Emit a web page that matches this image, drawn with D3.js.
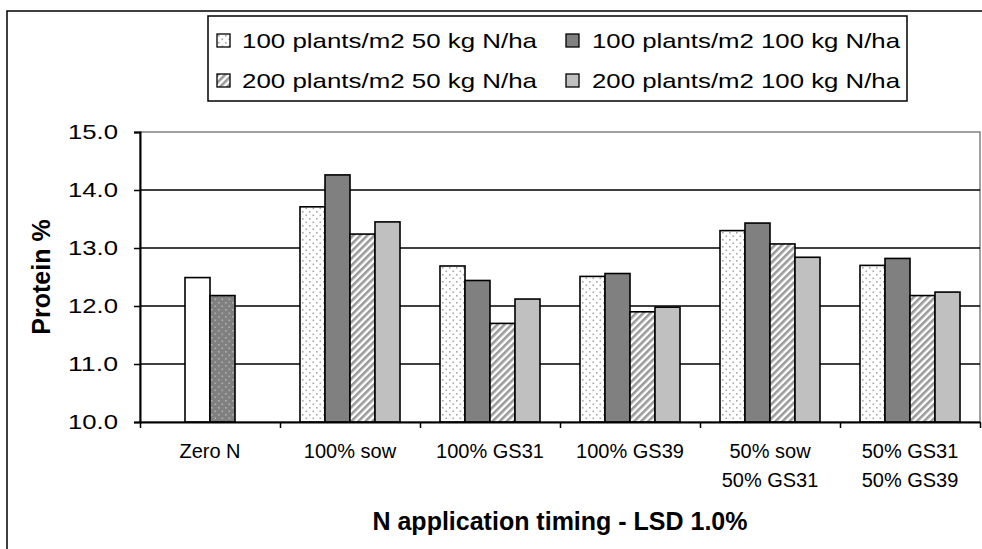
<!DOCTYPE html>
<html>
<head>
<meta charset="utf-8">
<script src="https://cdn.jsdelivr.net/npm/d3@7"></script>
<style>
  body { margin: 0; background: #fff; }
  svg { display: block; font-family: Arial, "Liberation Sans", sans-serif; }
</style>
</head>
<body>
<script>
// protein % by N timing, four density x N-rate combos

var categories = [["Zero N"], ["100% sow"], ["100% GS31"], ["100% GS39"], ["50% sow", "50% GS31"], ["50% GS31", "50% GS39"]];
var seriesNames = ["100 plants/m2 50 kg N/ha", "100 plants/m2 100 kg N/ha", "200 plants/m2 50 kg N/ha", "200 plants/m2 100 kg N/ha"];
// Zero N group has no values in the four main series
var s1 = [null, 13.71, 12.69, 12.51, 13.30, 12.70];
var s2 = [null, 14.26, 12.44, 12.56, 13.43, 12.82];
var s3 = [null, 13.24, 11.70, 11.90, 13.07, 12.18];
var s4 = [null, 13.45, 12.12, 11.98, 12.84, 12.24];
// the two zero-N controls sit in slots 2 and 3 of the first group
var zeroNames = ["Zero N a", "Zero N b"];
var zeroVals = [12.49, 12.18];
var zeroSlots = [1, 2];
var yTicks = [10, 11, 12, 13, 14, 15];

var W = 982, H = 549;
var svg = d3.select("body").append("svg").attr("width", W).attr("height", H);

// patterns
var defs = svg.append("defs");
var dots = defs.append("pattern").attr("id", "dots").attr("patternUnits", "userSpaceOnUse")
  .attr("width", 7).attr("height", 7);
dots.append("rect").attr("width", 7).attr("height", 7).attr("fill", "#fff");
dots.append("rect").attr("x", 1).attr("y", 1).attr("width", 1.6).attr("height", 1.6).attr("fill", "#a8a8a8");
dots.append("rect").attr("x", 4.5).attr("y", 4.5).attr("width", 1.6).attr("height", 1.6).attr("fill", "#a8a8a8");

var darkDots = defs.append("pattern").attr("id", "darkdots").attr("patternUnits", "userSpaceOnUse")
  .attr("width", 7).attr("height", 7);
darkDots.append("rect").attr("width", 7).attr("height", 7).attr("fill", "#808080");
darkDots.append("rect").attr("x", 1).attr("y", 1).attr("width", 1.6).attr("height", 1.6).attr("fill", "#b0b0b0");
darkDots.append("rect").attr("x", 4.5).attr("y", 4.5).attr("width", 1.6).attr("height", 1.6).attr("fill", "#b0b0b0");

var hatch = defs.append("pattern").attr("id", "hatch").attr("patternUnits", "userSpaceOnUse")
  .attr("width", 5).attr("height", 5).attr("patternTransform", "rotate(45)");
hatch.append("rect").attr("width", 5).attr("height", 5).attr("fill", "#fff");
hatch.append("rect").attr("width", 2.6).attr("height", 5).attr("fill", "#9a9a9a");

var fills = ["url(#dots)", "#808080", "url(#hatch)", "#c0c0c0"];
var zeroFills = ["#ffffff", "url(#darkdots)"];

// outer chart frame (runs off the right and bottom of the picture)
svg.append("rect").attr("x", 7).attr("y", 11).attr("width", 1000).attr("height", 600)
  .attr("fill", "none").attr("stroke", "#000").attr("stroke-width", 1.5);

// plot box  (don't call these top/left... window.top is read only)
var pL = 140, pR = 980, pT = 132, pB = 422;

var x0 = d3.scaleBand().domain(d3.range(categories.length)).range([pL, pR]);
var x1 = d3.scaleBand().domain(d3.range(seriesNames.length)).range([20, x0.bandwidth() - 20]);
var y = d3.scaleLinear().domain([10, 15]).range([pB, pT]);
var xb = d3.scaleLinear().domain([0, categories.length]).range([pL, pR]);

// plot area border
svg.append("rect").attr("x", pL).attr("y", pT).attr("width", pR - pL).attr("height", pB - pT)
  .attr("fill", "none").attr("stroke", "#808080").attr("stroke-width", 1.5);

// gridlines
svg.append("g").selectAll("line").data(yTicks.slice(1, -1)).enter().append("line")
  .attr("x1", pL).attr("x2", pR)
  .attr("y1", function(d){ return y(d); }).attr("y2", function(d){ return y(d); })
  .attr("stroke", "#000").attr("stroke-width", 1.5);

// bars
var all = [s1, s2, s3, s4];
var bars = svg.append("g");
all.forEach(function(vals, si){
  bars.selectAll("rect.s" + si).data(vals.map(function(v, ci){ return {v: v, c: ci}; }).filter(function(d){ return d.v != null; }))
    .enter().append("rect")
    .attr("class", "s" + si)
    .attr("x", function(d){ return x0(d.c) + x1(si); })
    .attr("y", function(d){ return y(d.v); })
    .attr("width", x1.bandwidth())
    .attr("height", function(d){ return y(10) - y(d.v); })
    .attr("fill", fills[si]).attr("stroke", "#000").attr("stroke-width", 1.6);
});
bars.selectAll("rect.zero").data(zeroVals).enter().append("rect")
  .attr("class", "zero")
  .attr("x", function(d, i){ return x0(0) + x1(zeroSlots[i]); })
  .attr("y", function(d){ return y(d); })
  .attr("width", x1.bandwidth())
  .attr("height", function(d){ return y(10) - y(d); })
  .attr("fill", function(d, i){ return zeroFills[i]; })
  .attr("stroke", "#000").attr("stroke-width", 1.6);

// y axis
var yAxis = svg.append("g").attr("transform", "translate(" + pL + ",0)")
  .call(d3.axisLeft(y).tickValues(yTicks).tickFormat(d3.format(".1f")).tickSize(6).tickPadding(16));
yAxis.select(".domain").attr("stroke", "#000").attr("stroke-width", 2);
yAxis.selectAll(".tick line").attr("stroke", "#000").attr("stroke-width", 1.5);
yAxis.selectAll(".tick text").attr("font-size", 21).attr("fill", "#000")
  .attr("font-family", "Arial, 'Liberation Sans', sans-serif")
  .attr("textLength", 50).attr("lengthAdjust", "spacingAndGlyphs");

// x axis: ticks on category boundaries
var xAxis = svg.append("g").attr("transform", "translate(0," + pB + ")")
  .call(d3.axisBottom(xb).ticks(categories.length).tickFormat("").tickSize(6).tickSizeOuter(0));
xAxis.select(".domain").attr("stroke", "#000").attr("stroke-width", 2);
xAxis.selectAll(".tick line").attr("stroke", "#000").attr("stroke-width", 1.5);

// category labels
var catLab = svg.append("g").selectAll("text").data(categories).enter().append("text")
  .attr("text-anchor", "middle").attr("font-size", 20).attr("fill", "#000")
  .attr("transform", function(d, i){ return "translate(" + (x0(i) + x0.bandwidth() / 2) + ",458)"; });
catLab.selectAll("tspan").data(function(d){ return d; }).enter().append("tspan")
  .attr("x", 0).attr("y", function(d, i){ return i * 29; }).text(function(d){ return d; });

// axis titles
svg.append("text").attr("x", (pL + pR) / 2).attr("y", 530).attr("text-anchor", "middle")
  .attr("font-size", 25).attr("font-weight", "bold").text("N application timing - LSD 1.0%");
svg.append("text").attr("transform", "translate(50," + ((pT + pB) / 2) + ") rotate(-90)")
  .attr("text-anchor", "middle").attr("font-size", 25).attr("font-weight", "bold").text("Protein %");

// legend
var lg = svg.append("g");
lg.append("rect").attr("x", 208).attr("y", 16).attr("width", 699).attr("height", 85)
  .attr("fill", "#fff").attr("stroke", "#000").attr("stroke-width", 1.5);
var legendOrder = [0, 1, 2, 3];
var lgItem = lg.selectAll("g.item").data(legendOrder).enter().append("g")
  .attr("transform", function(d, i){ return "translate(" + (i % 2 ? 566 : 217) + "," + (i < 2 ? 34 : 74) + ")"; });
lgItem.append("rect").attr("width", 13).attr("height", 13)
  .attr("fill", function(d){ return fills[d]; }).attr("stroke", "#000").attr("stroke-width", 1.3);
lgItem.append("text").attr("x", function(d, i){ return i % 2 ? 26 : 25; }).attr("y", 13.5)
  .attr("font-size", 21).attr("fill", "#000")
  .attr("textLength", function(d, i){ return i % 2 ? 308 : 295; }).attr("lengthAdjust", "spacingAndGlyphs")
  .text(function(d){ return seriesNames[d]; });
</script>
</body>
</html>
